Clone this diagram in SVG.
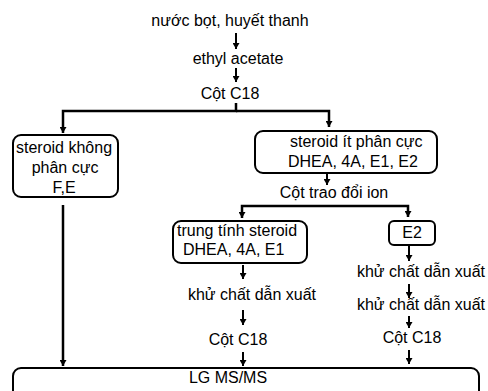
<svg xmlns="http://www.w3.org/2000/svg" width="488" height="391" viewBox="0 0 488 391">
<style>
text{font-family:"Liberation Sans",Arial,sans-serif;font-size:16px;fill:#000}
.m{text-anchor:middle}
.box{fill:#fff;stroke:#000;stroke-width:2}
.c{fill:none;stroke:#000;stroke-width:2}
.c2{fill:none;stroke:#000;stroke-width:2.5}
</style>
<defs>
<marker id="ah" markerUnits="userSpaceOnUse" markerWidth="7" markerHeight="7" refX="6" refY="3.5" orient="auto"><path d="M0,0 L6,3.5 L0,7 z" fill="#000"/></marker>
</defs>
<g id="connectors">
<path class="c" d="M236,33 V49" marker-end="url(#ah)"/>
<path class="c" d="M236,68 V82" marker-end="url(#ah)"/>
<path class="c2" d="M236,103 V111 H63 V133" marker-end="url(#ah)"/>
<path class="c2" d="M236,111 H329 V127" marker-end="url(#ah)"/>
<path class="c" d="M327,173 V185" marker-end="url(#ah)"/>
<path class="c2" d="M327,206 H242 V218" marker-end="url(#ah)"/>
<path class="c2" d="M327,206 H408 V217" marker-end="url(#ah)"/>
<path class="c" d="M243,265 V279" marker-end="url(#ah)"/>
<path class="c" d="M243,310 V325" marker-end="url(#ah)"/>
<path class="c" d="M243,352 V366" marker-end="url(#ah)"/>
<path class="c" d="M409,245 V261" marker-end="url(#ah)"/>
<path class="c" d="M409,284 V298" marker-end="url(#ah)"/>
<path class="c" d="M409,316 V328" marker-end="url(#ah)"/>
<path class="c" d="M409,350 V364" marker-end="url(#ah)"/>
<path class="c2" d="M63,205 V366" marker-end="url(#ah)"/>
</g>
<g id="n1"><text class="m" x="230" y="26">nước bọt, huyết thanh</text></g>
<g id="n2"><text class="m" x="238" y="64">ethyl acetate</text></g>
<g id="n3"><text class="m" x="230" y="99">Cột C18</text></g>
<g id="n4">
<rect class="box" x="13" y="135" width="105" height="62" rx="8"/>
<text class="m" x="64" y="153">steroid không</text>
<text class="m" x="65" y="173">phân cực</text>
<text class="m" x="64" y="193">F,E</text>
</g>
<g id="n5">
<rect class="box" x="255" y="131" width="182" height="42" rx="8"/>
<text x="290" y="147">steroid ít phân cực</text>
<text x="288" y="167">DHEA, 4A, E1, E2</text>
</g>
<g id="n6"><text class="m" x="334" y="198">Cột trao đổi ion</text></g>
<g id="n7">
<rect class="box" x="173" y="221" width="134" height="42" rx="8"/>
<text x="177" y="236">trung tính steroid</text>
<text x="183" y="255">DHEA, 4A, E1</text>
</g>
<g id="n8">
<rect class="box" x="389" y="221" width="46" height="24" rx="5"/>
<text class="m" x="412" y="238">E2</text>
</g>
<g id="n9"><text class="m" x="252" y="300">khử chất dẫn xuất</text></g>
<g id="n10"><text class="m" x="238" y="345">Cột C18</text></g>
<g id="n11"><text class="m" x="421" y="277">khử chất dẫn xuất</text></g>
<g id="n12"><text class="m" x="421" y="310">khử chất dẫn xuất</text></g>
<g id="n13"><text class="m" x="412" y="343">Cột C18</text></g>
<g id="n14">
<rect class="box" x="13" y="368" width="466" height="40" rx="8"/>
<text class="m" x="228" y="383">LG MS/MS</text>
</g>
</svg>
